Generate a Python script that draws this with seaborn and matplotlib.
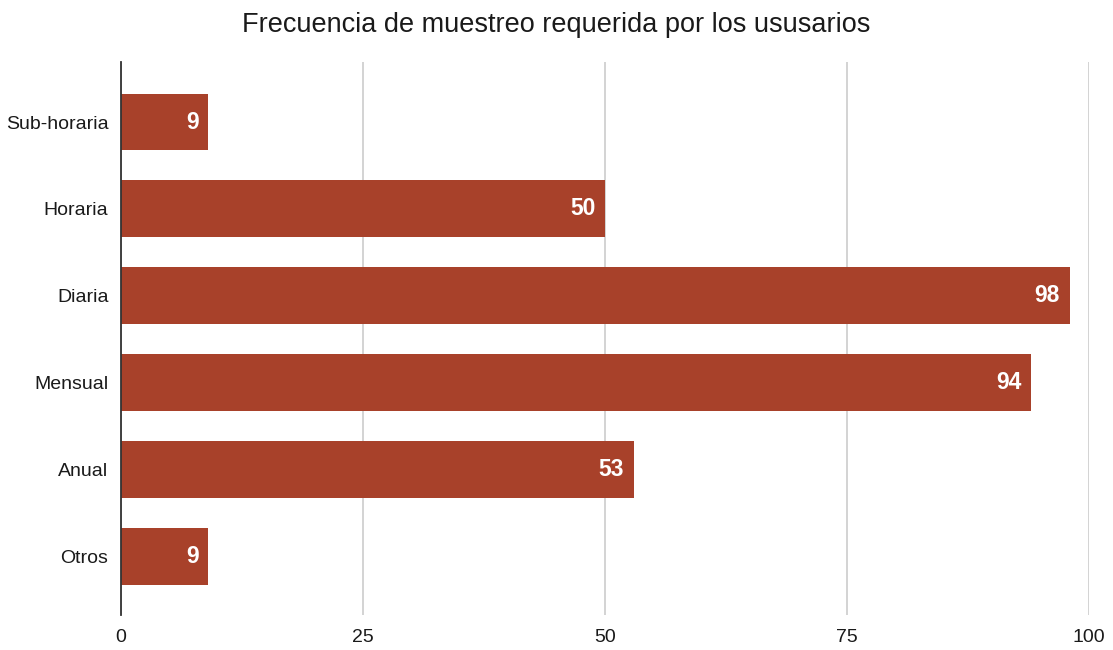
import matplotlib
matplotlib.use("Agg")
import matplotlib.pyplot as plt
import seaborn as sns
import pandas as pd

categories = ["Sub-horaria", "Horaria", "Diaria", "Mensual", "Anual", "Otros"]
values = [9, 50, 98, 94, 53, 9]
x_ticks = [0, 25, 50, 75, 100]

sns.set_theme(style="white")
plt.rcParams["font.family"] = ["Liberation Sans", "DejaVu Sans"]

df = pd.DataFrame({"categoria": categories, "valor": values})

fig = plt.figure(figsize=(11.13, 6.5), dpi=100)
ax = fig.add_axes([0.1087, 0.0538, 0.8697, 0.8508])

sns.barplot(data=df, y="categoria", x="valor", orient="h", color="#A8412A",
            saturation=1, width=0.655, ax=ax, zorder=3, linewidth=0)

for patch, v in zip(ax.patches, values):
    y = patch.get_y() + patch.get_height() / 2
    ax.text(v - 1.0, y, str(v), ha="right", va="center", color="white",
            fontsize=16.5, fontweight="bold", zorder=4)

ax.set_xlim(0, 100)
ax.set_ylim(5.67, -0.69)
ax.set_xticks(x_ticks)
ax.set_xticklabels([str(t) for t in x_ticks], fontsize=14, color="#1a1a1a")
ax.tick_params(axis="y", labelsize=14, labelcolor="#1a1a1a", length=0, pad=9)
ax.tick_params(axis="x", length=0, pad=10)
ax.set_xlabel("")
ax.set_ylabel("")

ax.xaxis.grid(True, color="#cccccc", linewidth=1.2, zorder=0)
ax.yaxis.grid(False)
for s in ["top", "right", "bottom"]:
    ax.spines[s].set_visible(False)
ax.spines["left"].set_color("#333333")
ax.spines["left"].set_linewidth(1.3)
ax.spines["left"].set_zorder(5)

fig.suptitle("Frecuencia de muestreo requerida por los ususarios", x=0.5, y=0.982,
             fontsize=19.5, color="#1a1a1a")

fig.savefig("out.png", dpi=100)
